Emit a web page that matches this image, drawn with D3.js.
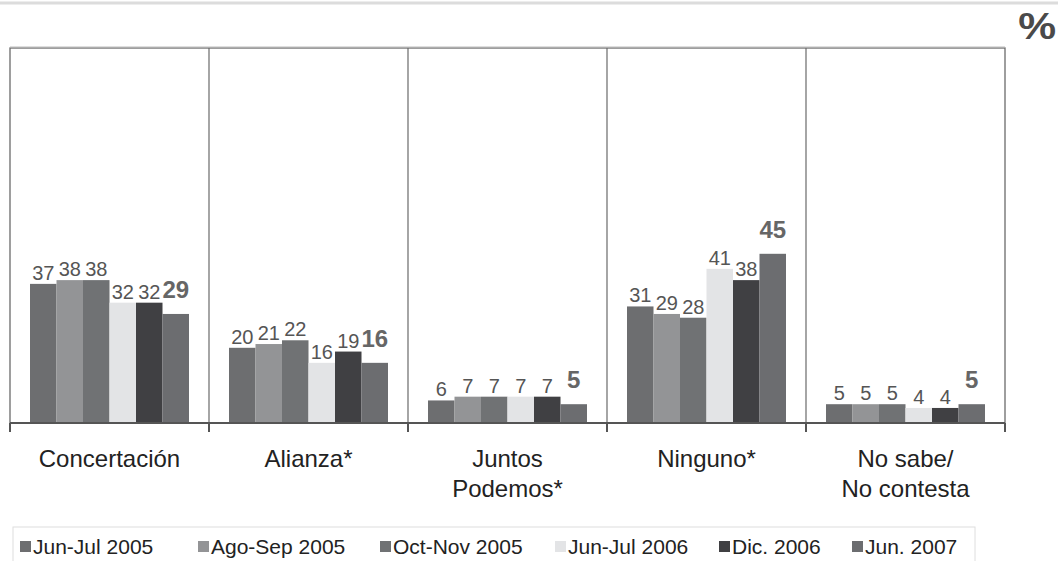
<!DOCTYPE html>
<html>
<head>
<meta charset="utf-8">
<script src="https://cdn.jsdelivr.net/npm/d3@7"></script>
<style>
  body { margin: 0; background: #fff; }
  svg { display: block; font-family: "Liberation Sans", Arial, sans-serif; }
</style>
</head>
<body>
<div id="chart"></div>
<script>
// --- Data ---
const categories = [
  ["Concertación"],
  ["Alianza*"],
  ["Juntos", "Podemos*"],
  ["Ninguno*"],
  ["No sabe/", "No contesta"]
];
const seriesNames = ["Jun-Jul 2005", "Ago-Sep 2005", "Oct-Nov 2005", "Jun-Jul 2006", "Dic. 2006", "Jun. 2007"];
const seriesColors = ["#6d6e70", "#939496", "#707274", "#e3e4e6", "#404043", "#6c6d70"];
const jun2005 = [37, 20, 6, 31, 5];
const ago2005 = [38, 21, 7, 29, 5];
const oct2005 = [38, 22, 7, 28, 5];
const jun2006 = [32, 16, 7, 41, 4];
const dic2006 = [32, 19, 7, 38, 4];
const jun2007 = [29, 16, 5, 45, 5];
const seriesValues = [jun2005, ago2005, oct2005, jun2006, dic2006, jun2007];

const width = 1058, height = 561;
const plot = { left: 10, right: 1005, top: 47, bottom: 423 };

const svg = d3.select("#chart").append("svg")
  .attr("width", width)
  .attr("height", height);

// faint page border line at top
svg.append("line")
  .attr("x1", 0).attr("x2", width)
  .attr("y1", 3).attr("y2", 3)
  .attr("stroke", "#dcdcdc").attr("stroke-width", 3);

const x0 = d3.scaleBand()
  .domain(d3.range(categories.length))
  .range([plot.left, plot.right]);

const x1 = d3.scaleBand()
  .domain(d3.range(seriesNames.length))
  .range([20, x0.bandwidth() - 20]);

const y = d3.scaleLinear().domain([0, 100]).range([plot.bottom, plot.top]);

// frame
svg.append("rect")
  .attr("x", plot.left).attr("y", plot.top + 1)
  .attr("width", plot.right - plot.left)
  .attr("height", plot.bottom - plot.top - 1)
  .attr("fill", "none")
  .attr("stroke", "#6a6a6a")
  .attr("stroke-width", 1.3);
svg.append("line")
  .attr("x1", plot.left).attr("x2", plot.right)
  .attr("y1", plot.top).attr("y2", plot.top)
  .attr("stroke", "#bdbdbd").attr("stroke-width", 1);

// dividers between categories
svg.append("g").selectAll("line")
  .data(d3.range(1, categories.length))
  .join("line")
  .attr("x1", d => x0(d)).attr("x2", d => x0(d))
  .attr("y1", plot.top + 1).attr("y2", plot.bottom)
  .attr("stroke", "#6a6a6a").attr("stroke-width", 1.2);

// bars
const groups = svg.append("g").selectAll("g")
  .data(categories.map((c, i) => i))
  .join("g")
  .attr("transform", i => `translate(${x0(i)},0)`);

groups.selectAll("rect")
  .data(i => seriesValues.map((vals, s) => ({ s, v: vals[i] })))
  .join("rect")
  .attr("x", d => x1(d.s))
  .attr("width", x1.bandwidth())
  .attr("y", d => y(d.v))
  .attr("height", d => y(0) - y(d.v))
  .attr("fill", d => seriesColors[d.s]);

// value labels (last survey bigger and bold)
groups.selectAll("text")
  .data(i => seriesValues.map((vals, s) => ({ s, v: vals[i] })))
  .join("text")
  .attr("x", d => x1(d.s) + x1.bandwidth() / 2)
  .attr("y", d => y(d.v) - (d.s === 5 ? 16 : 4))
  .attr("text-anchor", "middle")
  .attr("font-size", d => d.s === 5 ? 24 : 20)
  .attr("font-weight", d => d.s === 5 ? "bold" : "normal")
  .attr("fill", d => d.s === 5 ? "#666" : "#555")
  .text(d => d.v);

// baseline axis
svg.append("line")
  .attr("x1", plot.left).attr("x2", plot.right)
  .attr("y1", plot.bottom).attr("y2", plot.bottom)
  .attr("stroke", "#555").attr("stroke-width", 2);
svg.append("g").selectAll("line")
  .data(d3.range(categories.length + 1))
  .join("line")
  .attr("x1", d => plot.left + d * x0.bandwidth())
  .attr("x2", d => plot.left + d * x0.bandwidth())
  .attr("y1", plot.bottom).attr("y2", plot.bottom + 9)
  .attr("stroke", "#555").attr("stroke-width", 2);

// category labels
const catLabels = svg.append("g").selectAll("text")
  .data(categories)
  .join("text")
  .attr("text-anchor", "middle")
  .attr("font-size", 24)
  .attr("fill", "#222")
  .attr("x", (d, i) => x0(i) + x0.bandwidth() / 2)
  .attr("y", 467);
catLabels.selectAll("tspan")
  .data(d => d)
  .join("tspan")
  .attr("x", function () { return d3.select(this.parentNode).attr("x"); })
  .attr("dy", (d, i) => i === 0 ? 0 : 30)
  .text(d => d);

// percent sign
svg.append("text")
  .attr("transform", "translate(1056,39) scale(1.15,1)")
  .attr("text-anchor", "end")
  .attr("font-size", 37)
  .attr("font-weight", "bold")
  .attr("fill", "#4a4a4a")
  .text("%");

// legend
svg.append("rect")
  .attr("x", 13).attr("y", 527)
  .attr("width", 962).attr("height", 40)
  .attr("fill", "none")
  .attr("stroke", "#dedede");

const legendX = [20, 198, 380, 555, 719, 852];
const legend = svg.append("g").selectAll("g")
  .data(seriesNames)
  .join("g")
  .attr("transform", (d, i) => `translate(${legendX[i]},554)`);
legend.append("rect")
  .attr("x", 0).attr("y", -13)
  .attr("width", 11).attr("height", 11)
  .attr("fill", (d, i) => seriesColors[i]);
legend.append("text")
  .attr("x", 13).attr("y", 0)
  .attr("font-size", 21)
  .attr("fill", "#222")
  .text(d => d);
</script>
</body>
</html>
